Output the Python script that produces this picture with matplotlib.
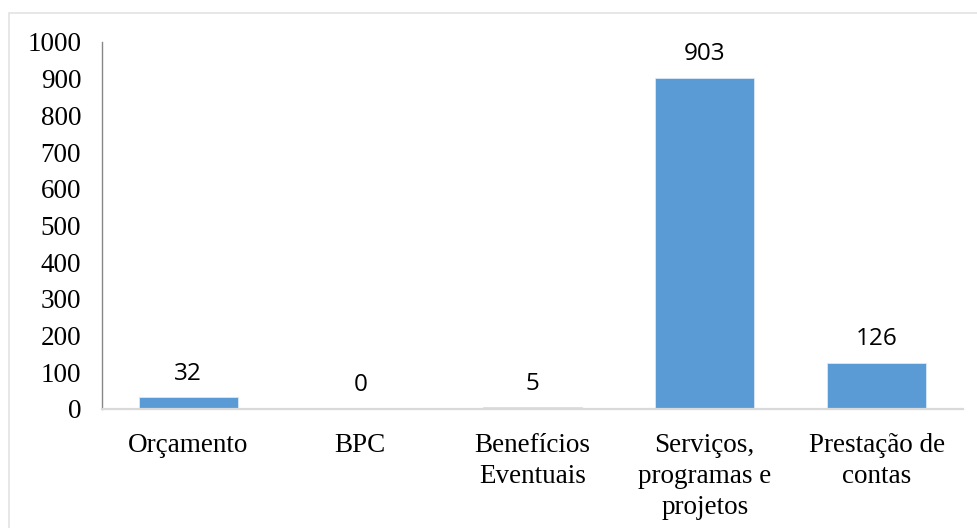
import numpy as np
import matplotlib.pyplot as plt
from matplotlib.patches import Rectangle

categorias = ['Orçamento', 'BPC', 'Benefícios\nEventuais',
              'Serviços,\nprogramas e\nprojetos', 'Prestação de\ncontas']
valores = [32, 0, 5, 903, 126]
ticks_y = np.arange(0, 1001, 100)

fig = plt.figure(figsize=(9.77, 5.28), dpi=100)
ax = fig.add_axes([0.1044, 0.2254, 0.8813, 0.6951])

# moldura clara em volta do grafico
fig.patches.append(Rectangle((9 / 977, -0.1), 1.2, 1 - 13 / 528 + 0.1,
                             transform=fig.transFigure, fill=False,
                             edgecolor='#E3E3E3', linewidth=1.2))

x = np.arange(len(categorias))
ax.bar(x, valores, width=0.575, color='#5B9BD5', edgecolor='#DCE8F5', linewidth=0.6, zorder=2)

for xi, v in zip(x, valores):
    ax.annotate(str(v), (xi, v), xytext=(0, 17), textcoords='offset points',
                ha='center', va='center', fontsize=17.5, family='Open Sans')

ax.set_xlim(-0.5, len(categorias) - 0.5)
ax.set_ylim(0, 1000)
ax.set_yticks(ticks_y)
ax.set_yticklabels([str(t) for t in ticks_y], family='Liberation Serif', fontsize=19.5)
ax.set_xticks(x)
ax.set_xticklabels(categorias, family='Liberation Serif', fontsize=19.5, linespacing=1.32)
ax.tick_params(axis='y', length=0, pad=15)
ax.tick_params(axis='x', length=0, pad=17)

for s in ['top', 'right']:
    ax.spines[s].set_visible(False)
ax.spines['left'].set_color('#868686')
ax.spines['left'].set_linewidth(1.0)
ax.spines['bottom'].set_color('#D9D9D9')
ax.spines['bottom'].set_linewidth(1.6)

plt.savefig('out.png', dpi=100)
